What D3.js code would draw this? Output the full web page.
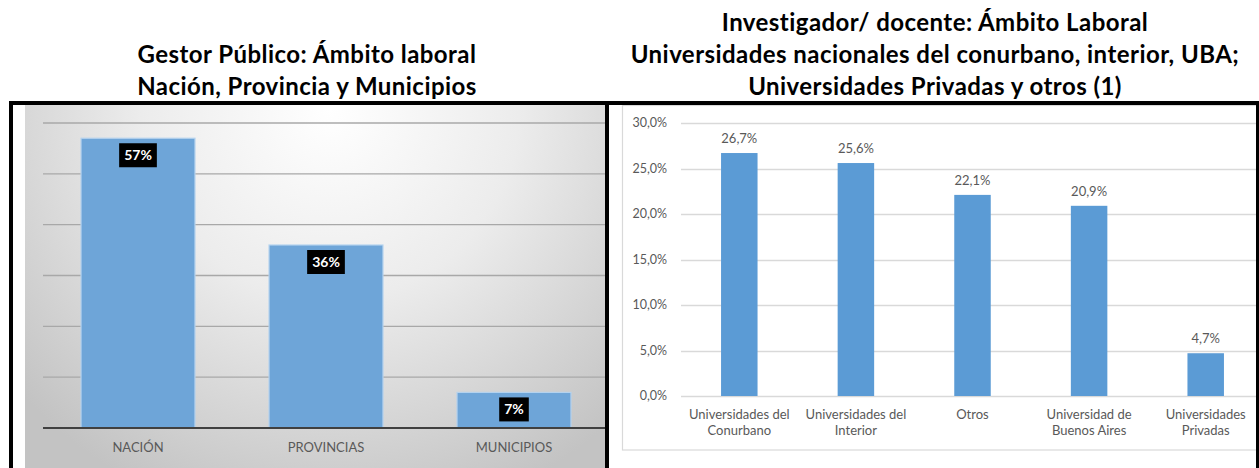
<!DOCTYPE html>
<html>
<head>
<meta charset="utf-8">
<script src="https://cdn.jsdelivr.net/npm/d3@7"></script>
<style>
  html, body { margin: 0; padding: 0; background: #fff; }
  svg { display: block; }
  text { font-family: Lato, "Open Sans", sans-serif; }
</style>
</head>
<body>
<svg id="chart" width="1259" height="468"></svg>
<script>
// ---- Data ----
const leftTitle = ["Gestor Público: Ámbito laboral", "Nación, Provincia y Municipios"];
const leftCategories = ["NACIÓN", "PROVINCIAS", "MUNICIPIOS"];
const leftValues = [57, 36, 7];
const leftLabels = ["57%", "36%", "7%"];
const leftGridTicks = [10, 20, 30, 40, 50, 60];

const rightTitle = ["Investigador/ docente: Ámbito Laboral",
  "Universidades nacionales del conurbano, interior, UBA;",
  "Universidades Privadas y otros (1)"];
const rightCategories = [["Universidades del", "Conurbano"], ["Universidades del", "Interior"],
  ["Otros"], ["Universidad de", "Buenos Aires"], ["Universidades", "Privadas"]];
const rightValues = [26.7, 25.6, 22.1, 20.9, 4.7];
const rightTicks = [0, 5, 10, 15, 20, 25, 30];

const svg = d3.select("#chart");
const fmtComma = (v, d) => v.toFixed(d).replace(".", ",");

// ---- Gradient ----
const defs = svg.append("defs");
const rg = defs.append("radialGradient").attr("id", "bgGrad")
  .attr("gradientUnits", "userSpaceOnUse")
  .attr("cx", 330).attr("cy", 110).attr("r", 420);
rg.append("stop").attr("offset", "0%").attr("stop-color", "#ffffff");
rg.append("stop").attr("offset", "45%").attr("stop-color", "#ececec");
rg.append("stop").attr("offset", "100%").attr("stop-color", "#c3c3c3");
defs.append("clipPath").attr("id", "rclip").append("rect")
  .attr("x", 610).attr("y", 105).attr("width", 646).attr("height", 363);

// ---- Titles ----
svg.append("g").selectAll("text").data(leftTitle).join("text")
  .attr("x", 307).attr("y", (d, i) => 63 + i * 32)
  .attr("text-anchor", "middle").attr("font-weight", "bold").attr("font-size", 24)
  .attr("letter-spacing", 0.45)
  .attr("fill", "#000").text(d => d);
svg.append("g").selectAll("text").data(rightTitle).join("text")
  .attr("x", 935).attr("y", (d, i) => 31 + i * 32)
  .attr("text-anchor", "middle").attr("font-weight", "bold").attr("font-size", 24)
  .attr("letter-spacing", 0.45)
  .attr("fill", "#000").text(d => d);

// ---- Left panel background ----
svg.append("rect").attr("x", 25).attr("y", 105).attr("width", 580).attr("height", 363)
  .attr("fill", "url(#bgGrad)");

// ---- Left chart ----
const xL = d3.scaleBand().domain(leftCategories).range([44, 608])
  .paddingInner(0.394).paddingOuter(0.197);
const yL = d3.scaleLinear().domain([0, 60]).range([428, 123]);

svg.append("g").selectAll("line").data(leftGridTicks).join("line")
  .attr("x1", 43).attr("x2", 605)
  .attr("y1", d => yL(d)).attr("y2", d => yL(d))
  .attr("stroke", "#a8a8a8").attr("stroke-width", 1.4);

svg.append("g").selectAll("rect").data(leftValues).join("rect")
  .attr("x", (d, i) => xL(leftCategories[i]))
  .attr("y", d => yL(d))
  .attr("width", xL.bandwidth())
  .attr("height", d => yL(0) - yL(d))
  .attr("fill", "#6EA5D8").attr("stroke", "#B4D2EE").attr("stroke-width", 1.2);

svg.append("line").attr("x1", 43).attr("x2", 605)
  .attr("y1", yL(0)).attr("y2", yL(0))
  .attr("stroke", "#404040").attr("stroke-width", 2.2);

const lblG = svg.append("g");
leftValues.forEach((v, i) => {
  const cx = xL(leftCategories[i]) + xL.bandwidth() / 2;
  const top = yL(v) + 5;
  const r = lblG.append("rect").attr("fill", "#000");
  const t = lblG.append("text").attr("x", cx).attr("y", top + 17)
    .attr("text-anchor", "middle").attr("font-weight", "bold").attr("font-size", 14)
    .attr("fill", "#fff").text(leftLabels[i]);
  const w = t.node().getComputedTextLength() + 10;
  r.attr("x", cx - w / 2).attr("y", top).attr("width", w).attr("height", 24);
});

svg.append("g").selectAll("text").data(leftCategories).join("text")
  .attr("x", d => xL(d) + xL.bandwidth() / 2).attr("y", 452)
  .attr("text-anchor", "middle").attr("font-size", 13).attr("fill", "#595959")
  .text(d => d);

// ---- Right chart ----
svg.append("rect").attr("x", 622.5).attr("y", 105.5).attr("width", 640).attr("height", 344.5)
  .attr("fill", "#fff").attr("stroke", "#d9d9d9").attr("stroke-width", 1.2);

const xR = d3.scaleBand().domain(rightCategories.map(d => d.join(" "))).range([681, 1264])
  .paddingInner(0.687).paddingOuter(0.3435);
const yR = d3.scaleLinear().domain([0, 30]).range([396, 123]);

const rg2 = svg.append("g").attr("clip-path", "url(#rclip)");
rg2.selectAll("line").data(rightTicks).join("line")
  .attr("x1", 681).attr("x2", 1260)
  .attr("y1", d => Math.round(yR(d)) + 0.5).attr("y2", d => Math.round(yR(d)) + 0.5)
  .attr("stroke", "#d9d9d9").attr("stroke-width", 1.3);

svg.append("g").selectAll("text").data(rightTicks).join("text")
  .attr("x", 667).attr("y", d => yR(d)).attr("dy", "0.35em")
  .attr("text-anchor", "end").attr("font-size", 12.5).attr("fill", "#595959")
  .text(d => fmtComma(d, 1) + "%");

rg2.selectAll("rect").data(rightValues).join("rect")
  .attr("x", (d, i) => xR(rightCategories[i].join(" ")))
  .attr("y", d => yR(d))
  .attr("width", xR.bandwidth())
  .attr("height", d => yR(0) - yR(d))
  .attr("fill", "#5B9BD5");

svg.append("g").selectAll("text").data(rightValues).join("text")
  .attr("x", (d, i) => xR(rightCategories[i].join(" ")) + xR.bandwidth() / 2)
  .attr("y", d => yR(d) - 10)
  .attr("text-anchor", "middle").attr("font-size", 13).attr("fill", "#595959")
  .text(d => fmtComma(d, 1) + "%");

const catG = svg.append("g");
rightCategories.forEach((lines, i) => {
  const cx = xR(lines.join(" ")) + xR.bandwidth() / 2;
  lines.forEach((ln, j) => {
    catG.append("text").attr("x", cx).attr("y", 419 + j * 16)
      .attr("text-anchor", "middle").attr("font-size", 13).attr("fill", "#595959")
      .text(ln);
  });
});

// ---- Black frame ----
const frame = svg.append("g").attr("fill", "#000");
frame.append("rect").attr("x", 9).attr("y", 101).attr("width", 1250).attr("height", 4);
frame.append("rect").attr("x", 9).attr("y", 101).attr("width", 4).attr("height", 367);
frame.append("rect").attr("x", 605).attr("y", 101).attr("width", 4).attr("height", 367);
frame.append("rect").attr("x", 1256).attr("y", 101).attr("width", 3).attr("height", 367);
</script>
</body>
</html>
